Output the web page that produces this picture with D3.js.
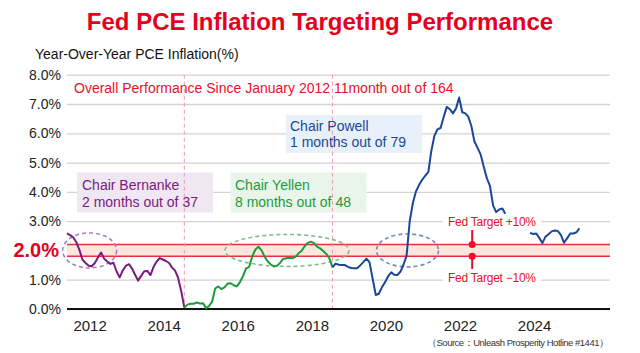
<!DOCTYPE html>
<html>
<head>
<meta charset="utf-8">
<script src="https://cdn.jsdelivr.net/npm/d3@7"></script>
<style>
    body { margin: 0; background: #fff; }
    text { font-family: "Liberation Sans", Arial, sans-serif; }
    .narrow { font-family: "Liberation Sans Narrow", "Liberation Sans", sans-serif; }
</style>
</head>
<body>
<div id="chart"></div>
<script>

// monthly YoY PCE readings, one array per chair
const firstMonth = new Date(2011, 4, 23);
const yellenStartMonth = 38;
const powellStartMonth = 86;

const bernankeValues = [2.58, 2.52, 2.45, 2.28, 2.01, 1.68, 1.57, 1.48, 1.46, 1.58, 1.76, 1.93, 1.72,
    1.62, 1.54, 1.58, 1.28, 1.08, 1.32, 1.47, 1.53, 1.38, 1.18, 0.97, 1.13, 1.29, 1.30, 1.16,
    1.44, 1.62, 1.74, 1.69, 1.64, 1.57, 1.42, 1.31, 1.06, 0.60, 0.05];

const yellenValues = [0.05, 0.15, 0.18, 0.18, 0.22, 0.19, 0.20, 0.03, 0.10, 0.25, 0.70, 0.77, 0.68,
    0.74, 0.87, 0.88, 0.81, 0.77, 0.92, 1.13, 1.39, 1.44, 1.80, 2.03, 2.13, 2.00, 1.78, 1.62,
    1.52, 1.45, 1.48, 1.58, 1.71, 1.73, 1.75, 1.73, 1.78, 1.90, 1.99, 2.15, 2.26, 2.30, 2.25,
    2.12, 2.07, 1.98, 1.88, 1.73, 1.42];

const powellValues = [1.42, 1.55, 1.51, 1.50, 1.50, 1.44, 1.40, 1.39, 1.39, 1.49, 1.60, 1.72, 1.60,
    1.04, 0.48, 0.52, 0.74, 0.91, 1.12, 1.25, 1.17, 1.16, 1.27, 1.52, 1.82, 3.00, 3.62, 4.01,
    4.23, 4.41, 4.55, 4.68, 5.38, 5.91, 6.13, 6.18, 6.55, 6.90, 6.82, 6.68, 6.85, 7.22, 6.72,
    6.68, 6.57, 6.25, 5.72, 5.50, 5.28, 4.86, 4.46, 4.20, 3.54, 3.31, 3.40, 3.43, 3.25,
    null, null, null, null, null, null, null,
    2.60, 2.56, 2.58, 2.42, 2.25, 2.47, 2.55, 2.65, 2.68, 2.66, 2.52, 2.26, 2.42, 2.58, 2.58,
    2.62, 2.75];

const yearTicks = [2012, 2014, 2016, 2018, 2020, 2022, 2024];
const yTicks = [0, 1, 3, 4, 5, 6, 7, 8];
const targetRate = 2.0;
const targetTolerance = 0.1;

// chair annotations
const chairNames = ["Bernanke", "Yellen", "Powell"];
const chairScores = ["2 months out of 37", "8 months out of 48", "1 months out of 79"];
const ellipseDates = [new Date(2012, 0, 1), new Date(2017, 4, 1), new Date(2020, 7, 1)];

class PceChart {

    constructor(parentElement) {
        this.parentElement = parentElement;
        this.initVis();
    }

    initVis() {
        let vis = this;

        vis.canvas = {width: 640, height: 353};
        vis.left = 67;
        vis.right = 610;

        vis.svg = d3.select(vis.parentElement)
            .append("svg")
            .attr("width", vis.canvas.width)
            .attr("height", vis.canvas.height);

        vis.x = d3.scaleTime()
            .domain([new Date(2011, 4, 23), new Date(2026, 0, 19)])
            .range([vis.left, vis.right]);
        vis.y = d3.scaleLinear()
            .domain([0, 8])
            .range([309, 74.7]);

        // title
        vis.svg.append("text")
            .attr("x", 320)
            .attr("y", 30)
            .attr("text-anchor", "middle")
            .attr("font-size", 24)
            .attr("font-weight", "bold")
            .attr("fill", "#e60020")
            .text("Fed PCE Inflation Targeting Performance");

        vis.svg.append("text")
            .attr("x", 35)
            .attr("y", 59)
            .attr("font-size", 14)
            .attr("fill", "#111")
            .text("Year-Over-Year PCE Inflation(%)");

        vis.wrangleData();
    }

    wrangleData() {
        let vis = this;

        function toSeries(values, offset) {
            return values.map((v, i) => ({date: d3.timeMonth.offset(firstMonth, offset + i), value: v}));
        }

        vis.series = [
            {name: "Bernanke", color: "#7b1a80", data: toSeries(bernankeValues, 0)},
            {name: "Yellen", color: "#1e9a3e", data: toSeries(yellenValues, yellenStartMonth)},
            {name: "Powell", color: "#1a4895", data: toSeries(powellValues, powellStartMonth)}
        ];
        vis.handovers = [yellenStartMonth, powellStartMonth].map(m => d3.timeMonth.offset(firstMonth, m));

        vis.updateVis();
    }

    updateVis() {
        let vis = this;
        let x = vis.x, y = vis.y;

        // y grid + labels
        vis.yAxis = d3.axisLeft(y)
            .tickValues(yTicks)
            .tickFormat(d => d.toFixed(1) + "%")
            .tickSize(-(vis.right - vis.left))
            .tickPadding(6);
        let gy = vis.svg.append("g")
            .attr("transform", "translate(" + vis.left + ",0)")
            .call(vis.yAxis);
        gy.select(".domain").remove();
        gy.selectAll(".tick line").attr("stroke", "#d2d2d2").attr("stroke-width", 1.3);
        gy.selectAll(".tick text")
            .attr("class", "narrow")
            .attr("font-size", 14)
            .attr("fill", "#222");

        // target band
        vis.svg.append("rect")
            .attr("x", vis.left)
            .attr("y", y(targetRate * (1 + targetTolerance)))
            .attr("width", vis.right - vis.left)
            .attr("height", y(targetRate * (1 - targetTolerance)) - y(targetRate * (1 + targetTolerance)))
            .attr("fill", "#fde6de");
        [1 + targetTolerance, 1 - targetTolerance].forEach(f => {
            vis.svg.append("line")
                .attr("x1", vis.left).attr("x2", vis.right)
                .attr("y1", y(targetRate * f)).attr("y2", y(targetRate * f))
                .attr("stroke", "#e8313c")
                .attr("stroke-width", 1.5);
        });

        vis.svg.append("text")
            .attr("class", "narrow")
            .attr("x", 59)
            .attr("y", y(targetRate) + 7)
            .attr("text-anchor", "end")
            .attr("font-size", 20)
            .attr("font-weight", "bold")
            .attr("fill", "#e60020")
            .text(targetRate.toFixed(1) + "%");

        // annotation boxes
        let boxes = [
            {x: 77, y: 172.5, w: 136, h: 40, fill: "#efe7f1", color: "#7b1a80", tx: 82, ty: 190},
            {x: 230.5, y: 172.5, w: 136, h: 40, fill: "#e9f4ea", color: "#1e9a3e", tx: 235, ty: 190},
            {x: 286, y: 115, w: 136, h: 38, fill: "#e8f1fa", color: "#1a4895", tx: 290, ty: 130.5}
        ];
        boxes.forEach(b => {
            vis.svg.append("rect")
                .attr("x", b.x).attr("y", b.y)
                .attr("width", b.w).attr("height", b.h)
                .attr("fill", b.fill);
        });

        // chair handover lines
        vis.handovers.forEach(d => {
            vis.svg.append("line")
                .attr("x1", x(d)).attr("x2", x(d))
                .attr("y1", y(8)).attr("y2", y(0))
                .attr("stroke", "#f19aae")
                .attr("stroke-width", 1)
                .attr("stroke-dasharray", "4,3");
        });

        // dashed ellipses around the 2% band
        let ellipseStyle = [
            {rx: 27, ry: 17.5, color: "#a67fba"},
            {rx: 62, ry: 16, color: "#7fbd88"},
            {rx: 31, ry: 16.5, color: "#7c87bd"}
        ];
        ellipseDates.forEach((d, i) => {
            vis.svg.append("ellipse")
                .attr("cx", x(d))
                .attr("cy", y(targetRate))
                .attr("rx", ellipseStyle[i].rx)
                .attr("ry", ellipseStyle[i].ry)
                .attr("fill", "none")
                .attr("stroke", ellipseStyle[i].color)
                .attr("stroke-width", 1.6)
                .attr("stroke-dasharray", "4,3");
        });

        // zero line
        vis.svg.append("line")
            .attr("x1", vis.left).attr("x2", vis.right)
            .attr("y1", y(0)).attr("y2", y(0))
            .attr("stroke", "#111")
            .attr("stroke-width", 2);

        // data lines
        let line = d3.line()
            .defined(d => d.value !== null)
            .x(d => x(d.date))
            .y(d => y(d.value));
        vis.svg.selectAll("path.pce")
            .data(vis.series)
            .enter()
            .append("path")
            .attr("class", "pce")
            .attr("d", d => line(d.data))
            .attr("fill", "none")
            .attr("stroke", d => d.color)
            .attr("stroke-width", 2)
            .attr("stroke-linejoin", "round");

        // x axis labels
        vis.xAxis = d3.axisBottom(x)
            .tickValues(yearTicks.map(yr => new Date(yr, 0, 1)))
            .tickFormat(d3.timeFormat("%Y"))
            .tickSize(0)
            .tickPadding(11);
        let gx = vis.svg.append("g")
            .attr("transform", "translate(0," + y(0) + ")")
            .call(vis.xAxis);
        gx.select(".domain").remove();
        gx.selectAll(".tick text")
            .attr("class", "narrow")
            .attr("font-size", 15)
            .attr("fill", "#222");

        // chair texts
        boxes.forEach((b, i) => {
            let t = vis.svg.append("text")
                .attr("x", b.tx).attr("y", b.ty)
                .attr("font-size", 14)
                .attr("fill", b.color);
            t.append("tspan").attr("x", b.tx).text("Chair " + chairNames[i]);
            t.append("tspan").attr("x", b.tx).attr("dy", 16.5).text(chairScores[i]);
        });

        vis.svg.append("text")
            .attr("x", 74)
            .attr("y", 93)
            .attr("font-size", 14)
            .attr("fill", "#e8102a")
            .text("Overall Performance Since January 2012 11month out of 164");

        // Fed target markers
        let markDate = new Date(2022, 4, 1);
        let mx = x(markDate);
        [{v: 1 + targetTolerance, label: "Fed Target +10%", ty: 226, end: 230},
         {v: 1 - targetTolerance, label: "Fed Target \u221210%", ty: 282, end: 269}].forEach(m => {
            vis.svg.append("rect")
                .attr("x", 443).attr("y", m.ty - 12)
                .attr("width", 98).attr("height", 16)
                .attr("fill", "#fff");
            vis.svg.append("text")
                .attr("x", 448).attr("y", m.ty)
                .attr("font-size", 12)
                .attr("textLength", 88)
                .attr("fill", "#e8102a")
                .text(m.label);
            vis.svg.append("line")
                .attr("x1", mx).attr("x2", mx)
                .attr("y1", m.end).attr("y2", y(targetRate * m.v))
                .attr("stroke", "#e8102a")
                .attr("stroke-width", 2);
            vis.svg.append("circle")
                .attr("cx", mx).attr("cy", y(targetRate * m.v))
                .attr("r", 3.5)
                .attr("fill", "#e8102a");
        });

        // source
        vis.svg.append("text")
            .attr("class", "narrow")
            .attr("x", 609)
            .attr("y", 346)
            .attr("text-anchor", "end")
            .attr("font-size", 9.5)
            .attr("textLength", 182)
            .attr("fill", "#333")
            .text("\uff08Source\uff1aUnleash Prosperity Hotline  #1441\uff09");
    }
}

let chart = new PceChart("#chart");
</script>
</body>
</html>
